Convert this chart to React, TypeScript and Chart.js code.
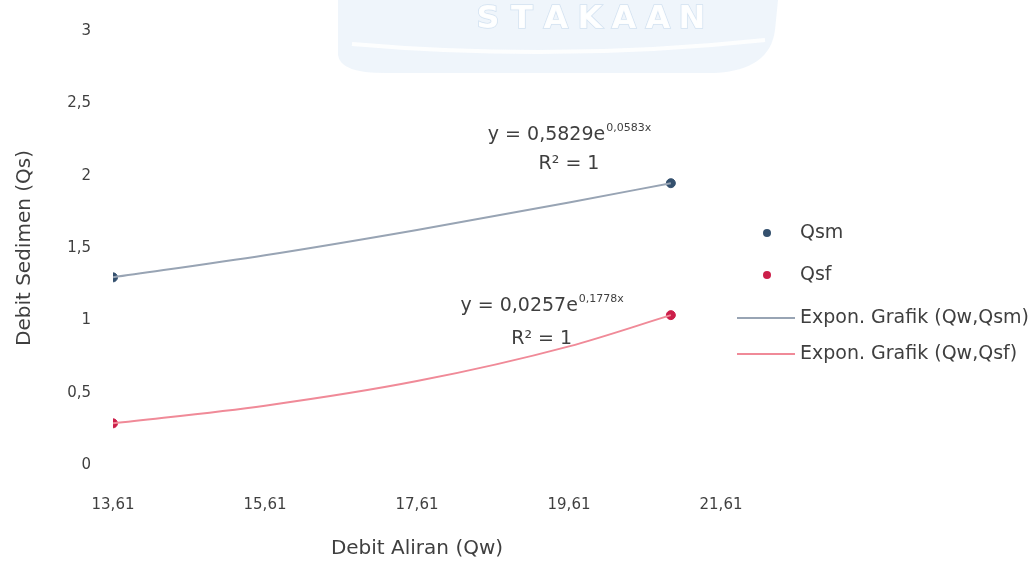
import { useEffect, useRef } from "react";
import { Chart, registerables } from "chart.js";

Chart.register(...registerables);

// ---- data ----
const flowQw = [13.61, 20.95];
const qsmValues = [1.297, 1.948];
const qsfValues = [0.288, 1.036];
const trendX = [13.61, 15.61, 17.61, 19.61, 20.95];
const trendQsm = [1.297, 1.45, 1.625, 1.815, 1.948];
const trendQsf = [0.288, 0.41, 0.58, 0.82, 1.036];
const xTickValues = [13.61, 15.61, 17.61, 19.61, 21.61];
const seriesNames = ["Qsm", "Qsf", "Expon. Grafik (Qw,Qsm)", "Expon. Grafik (Qw,Qsf)"];
const eqMain = ["y = 0,5829e", "y = 0,0257e"];
const eqExp = ["0,0583x", "0,1778x"];
const eqR2 = ["R² = 1", "R² = 1"];
const xTitle = "Debit Aliran (Qw)";
const yTitle = "Debit Sedimen (Qs)";

const FONT = "'DejaVu Sans', 'Liberation Sans', sans-serif";
const TEXT = "#3f3f3f";
const C_QSM = "#34506e";
const C_QSF = "#cc1f4a";
const C_TQSM = "#98a4b4";
const C_TQSF = "#f08a98";

const watermark = {
  id: "watermark",
  beforeDraw(chart: any) {
    const ctx = chart.ctx;
    ctx.save();
    ctx.fillStyle = "rgba(214,231,245,0.4)";
    ctx.beginPath();
    ctx.moveTo(338, 0);
    ctx.lineTo(338, 55);
    ctx.quadraticCurveTo(340, 73, 385, 73);
    ctx.lineTo(715, 73);
    ctx.quadraticCurveTo(770, 70, 775, 30);
    ctx.lineTo(778, 0);
    ctx.closePath();
    ctx.fill();
    ctx.strokeStyle = "rgba(255,255,255,0.9)";
    ctx.lineWidth = 4;
    ctx.beginPath();
    ctx.moveTo(352, 44);
    ctx.quadraticCurveTo(560, 62, 765, 40);
    ctx.stroke();
    ctx.font = `bold 32px ${FONT}`;
    ctx.textBaseline = "alphabetic";
    ctx.textAlign = "center";
    ctx.lineWidth = 1.5;
    ctx.strokeStyle = "rgba(190,212,234,0.6)";
    ctx.fillStyle = "rgba(255,255,255,0.95)";
    const letters = "STAKAAN".split("");
    letters.forEach((ch, i) => {
      const x = 488 + i * 34;
      ctx.strokeText(ch, x, 28);
      ctx.fillText(ch, x, 28);
    });
    ctx.restore();
  },
};

const overlay = {
  id: "overlay",
  afterDraw(chart: any) {
    const ctx = chart.ctx;
    const xs = chart.scales.x;
    const ys = chart.scales.y;
    ctx.save();
    // equations
    const eqPos = [
      { x: 19.61, y: 2.28, r2dy: 29 },
      { x: 19.25, y: 1.1, r2dy: 33 },
    ];
    eqPos.forEach((p, i) => {
      const cx = xs.getPixelForValue(p.x);
      const cy = ys.getPixelForValue(p.y);
      ctx.font = `19px ${FONT}`;
      const wMain = ctx.measureText(eqMain[i]).width;
      ctx.font = `11px ${FONT}`;
      const wExp = ctx.measureText(eqExp[i]).width;
      const start = cx - (wMain + wExp) / 2;
      ctx.fillStyle = TEXT;
      ctx.textBaseline = "middle";
      ctx.textAlign = "left";
      ctx.font = `19px ${FONT}`;
      ctx.fillText(eqMain[i], start, cy);
      ctx.font = `11px ${FONT}`;
      ctx.fillText(eqExp[i], start + wMain + 1, cy - 7);
      ctx.font = `19px ${FONT}`;
      ctx.textAlign = "center";
      ctx.fillText(eqR2[i], cx, cy + p.r2dy);
    });
    // legend
    const lx = 767;
    const tx = 800;
    const rows = [233, 275, 318, 354];
    ctx.font = `19px ${FONT}`;
    ctx.textAlign = "left";
    ctx.textBaseline = "middle";
    rows.forEach((y, i) => {
      if (i < 2) {
        ctx.fillStyle = i === 0 ? C_QSM : C_QSF;
        ctx.beginPath();
        ctx.arc(lx, y, 4, 0, Math.PI * 2);
        ctx.fill();
      } else {
        ctx.strokeStyle = i === 2 ? C_TQSM : C_TQSF;
        ctx.lineWidth = 2;
        ctx.beginPath();
        ctx.moveTo(737, y);
        ctx.lineTo(795, y);
        ctx.stroke();
      }
      ctx.fillStyle = TEXT;
      ctx.fillText(seriesNames[i], tx, y);
    });
    ctx.restore();
  },
};

export default function App() {
  const ref = useRef<HTMLCanvasElement | null>(null);

  useEffect(() => {
    document.body.style.margin = "0";
    if (!ref.current) return;
    const pts = (xs: number[], ys: number[]) => xs.map((x, i) => ({ x, y: ys[i] }));
    const chart = new Chart(ref.current, {
      type: "scatter",
      data: {
        datasets: [
          {
            label: seriesNames[2],
            type: "line",
            data: pts(trendX, trendQsm),
            borderColor: C_TQSM,
            borderWidth: 2,
            pointRadius: 0,
            tension: 0.4,
            cubicInterpolationMode: "monotone",
            fill: false,
          },
          {
            label: seriesNames[3],
            type: "line",
            data: pts(trendX, trendQsf),
            borderColor: C_TQSF,
            borderWidth: 2,
            pointRadius: 0,
            tension: 0.4,
            cubicInterpolationMode: "monotone",
            fill: false,
          },
          {
            label: seriesNames[0],
            data: pts(flowQw, qsmValues),
            backgroundColor: C_QSM,
            borderColor: C_QSM,
            pointRadius: 4.5,
          },
          {
            label: seriesNames[1],
            data: pts(flowQw, qsfValues),
            backgroundColor: C_QSF,
            borderColor: C_QSF,
            pointRadius: 4.5,
          },
        ],
      } as any,
      options: {
        animation: false,
        responsive: true,
        maintainAspectRatio: false,
        layout: { padding: { left: 0, right: 308, top: 28, bottom: 0 } },
        plugins: { legend: { display: false }, tooltip: { enabled: false } },
        scales: {
          x: {
            type: "linear",
            min: 13.61,
            max: 21.61,
            grid: { display: false, drawTicks: false },
            border: { display: false },
            afterBuildTicks: (s: any) => {
              s.ticks = xTickValues.map((v) => ({ value: v }));
            },
            afterFit: (s: any) => {
              s.height = 97;
            },
            ticks: {
              padding: 31,
              color: TEXT,
              font: { family: FONT, size: 15 },
              maxRotation: 0,
              callback: (v: any) => Number(v).toFixed(2).replace(".", ","),
            },
            title: {
              display: true,
              text: xTitle,
              color: TEXT,
              font: { family: FONT, size: 20 },
              padding: { top: 0, bottom: 1 },
            },
          },
          y: {
            min: 0,
            max: 3,
            grid: { display: false, drawTicks: false },
            border: { display: false },
            afterFit: (s: any) => {
              s.width = 113;
            },
            ticks: {
              stepSize: 0.5,
              padding: 22,
              color: TEXT,
              font: { family: FONT, size: 15 },
              callback: (v: any) => String(v).replace(".", ","),
            },
            title: {
              display: true,
              text: yTitle,
              color: TEXT,
              font: { family: FONT, size: 20 },
              padding: { top: 13, bottom: 0 },
            },
          },
        },
      },
      plugins: [watermark, overlay],
    });
    return () => chart.destroy();
  }, []);

  return (
    <div style={{ width: 1029, height: 562, position: "relative" }}>
      <canvas ref={ref} />
    </div>
  );
}
